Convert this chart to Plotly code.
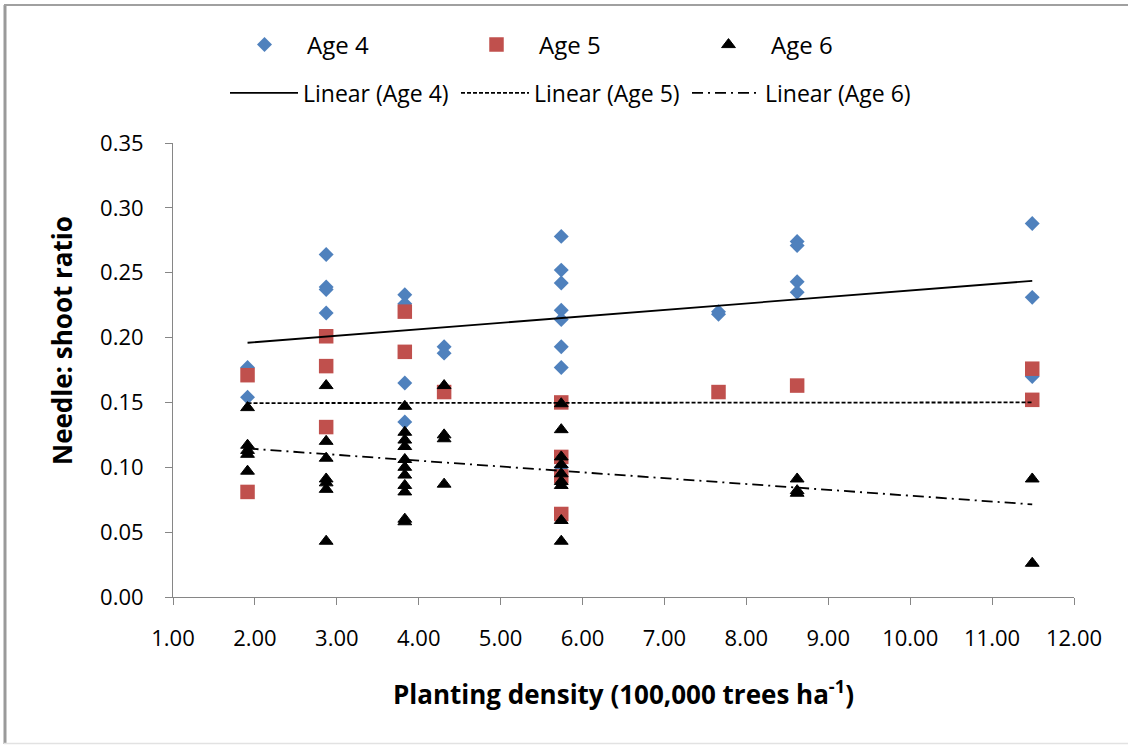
import plotly.graph_objects as go

# ---- data ----
age4_x = [1.91, 1.91,
          2.87, 2.87, 2.87, 2.87,
          3.83, 3.83, 3.83, 3.83,
          4.31, 4.31,
          5.74, 5.74, 5.74, 5.74, 5.74, 5.74, 5.74, 5.74,
          7.66, 7.66,
          8.62, 8.62, 8.62, 8.62,
          11.49, 11.49, 11.49]
age4_y = [0.177, 0.154,
          0.264, 0.239, 0.237, 0.219,
          0.233, 0.226, 0.165, 0.135,
          0.193, 0.188,
          0.278, 0.252, 0.242, 0.221, 0.214, 0.193, 0.177, 0.100,
          0.220, 0.218,
          0.274, 0.271, 0.243, 0.235,
          0.288, 0.231, 0.170]

age5_x = [1.91, 1.91,
          2.87, 2.87, 2.87,
          3.83, 3.83,
          4.31,
          5.74, 5.74, 5.74, 5.74,
          7.66,
          8.62,
          11.49, 11.49]
age5_y = [0.171, 0.081,
          0.201, 0.178, 0.131,
          0.220, 0.189,
          0.158,
          0.150, 0.108, 0.093, 0.064,
          0.158,
          0.163,
          0.176, 0.152]

age6_x = [1.91, 1.91, 1.91, 1.91, 1.91,
          2.87, 2.87, 2.87, 2.87, 2.87, 2.87, 2.87,
          3.83, 3.83, 3.83, 3.83, 3.83, 3.83, 3.83, 3.83, 3.83, 3.83, 3.83,
          4.31, 4.31, 4.31, 4.31,
          5.74, 5.74, 5.74, 5.74, 5.74, 5.74, 5.74, 5.74, 5.74,
          8.62, 8.62, 8.62,
          11.49, 11.49]
age6_y = [0.146, 0.117, 0.113, 0.110, 0.097,
          0.163, 0.120, 0.107, 0.091, 0.088, 0.083, 0.043,
          0.147, 0.127, 0.121, 0.116, 0.106, 0.100, 0.094, 0.086, 0.081, 0.060, 0.058,
          0.163, 0.125, 0.122, 0.087,
          0.149, 0.129, 0.108, 0.102, 0.095, 0.089, 0.086, 0.059, 0.043,
          0.091, 0.082, 0.080,
          0.091, 0.026]

trend_x = [1.91, 11.49]
trend4_y = [0.196, 0.2437]
trend5_y = [0.1495, 0.150]
trend6_y = [0.1145, 0.0714]

x_ticks = [1, 2, 3, 4, 5, 6, 7, 8, 9, 10, 11, 12]
y_ticks = [0.00, 0.05, 0.10, 0.15, 0.20, 0.25, 0.30, 0.35]

FONT = "Open Sans, Noto Sans, sans-serif"
AXIS_GREY = "#868686"

fig = go.Figure()

fig.add_trace(go.Scatter(x=age4_x, y=age4_y, mode="markers", name="Age 4",
                         marker=dict(symbol="diamond", size=11.5, color="#4F81BD"),
                         legend="legend"))
fig.add_trace(go.Scatter(x=age5_x, y=age5_y, mode="markers", name="Age 5",
                         marker=dict(symbol="square", size=14.5, color="#C0504D"),
                         legend="legend"))
fig.add_trace(go.Scatter(x=age6_x, y=age6_y, mode="markers", name="Age 6",
                         marker=dict(symbol="triangle-up", size=12, color="black",
                                     line=dict(color="black", width=1)),
                         legend="legend"))

fig.add_trace(go.Scatter(x=trend_x, y=trend4_y, mode="lines", name="Linear (Age 4)",
                         line=dict(color="black", width=1.8, dash="solid"),
                         legend="legend2"))
fig.add_trace(go.Scatter(x=trend_x, y=trend5_y, mode="lines", name="Linear (Age 5)",
                         line=dict(color="black", width=1.8, dash="4px,2px"),
                         legend="legend2"))
fig.add_trace(go.Scatter(x=trend_x, y=trend6_y, mode="lines", name="Linear (Age 6)",
                         line=dict(color="black", width=1.8, dash="11px,5px,2px,5px"),
                         legend="legend2"))

L, R, T, B = 173, 1074, 143, 597
W, H = 1128, 745


def px(xp):
    return (xp - L) / (R - L)


def py(yp):
    return (B - yp) / (B - T)


fig.update_layout(
    width=W, height=H,
    margin=dict(l=L, r=W - R, t=T, b=H - B),
    paper_bgcolor="white", plot_bgcolor="white",
    font=dict(family=FONT, size=22, color="black"),
    xaxis=dict(range=[1, 12], tickvals=x_ticks, tickformat=".2f",
               showline=True, linecolor=AXIS_GREY, linewidth=1,
               ticks="outside", ticklen=7, tickcolor=AXIS_GREY,
               showgrid=False, zeroline=False, ticklabelstandoff=15,
               tickfont=dict(size=22, family=FONT, color="black")),
    yaxis=dict(range=[0, 0.35], tickvals=y_ticks, tickformat=".2f",
               showline=True, linecolor=AXIS_GREY, linewidth=1,
               ticks="outside", ticklen=7, tickcolor=AXIS_GREY,
               showgrid=False, zeroline=False, ticklabelstandoff=17,
               tickfont=dict(size=22, family=FONT, color="black")),
    legend=dict(orientation="h", x=px(222), xanchor="left", y=py(45), yanchor="middle",
                itemwidth=75, entrywidth=142, entrywidthmode="pixels",
                font=dict(size=24, family=FONT), bgcolor="rgba(0,0,0,0)",
                tracegroupgap=0),
    legend2=dict(orientation="h", x=px(225), xanchor="left", y=py(93), yanchor="middle",
                 itemwidth=68, entrywidth=148, entrywidthmode="pixels",
                 font=dict(size=23, family=FONT), bgcolor="rgba(0,0,0,0)",
                 tracegroupgap=0),
    annotations=[
        dict(text="<b>Planting density (100,000 trees ha<sup>-1</sup>)</b>",
             xref="paper", yref="paper", x=px(623), y=py(693),
             xanchor="center", yanchor="middle", showarrow=False,
             font=dict(size=26, family=FONT, color="black")),
        dict(text="<b>Needle: shoot ratio</b>",
             xref="paper", yref="paper", x=px(62), y=py(341),
             xanchor="center", yanchor="middle", showarrow=False, textangle=-90,
             font=dict(size=26, family=FONT, color="black")),
    ],
    shapes=[
        dict(type="line", xref="paper", yref="paper",
             x0=px(5), x1=px(5), y0=py(744), y1=py(5),
             line=dict(color="#9a9a9a", width=3)),
        dict(type="line", xref="paper", yref="paper",
             x0=px(4), x1=px(1130), y0=py(5), y1=py(5),
             line=dict(color="#a0a0a0", width=2)),
        dict(type="line", xref="paper", yref="paper",
             x0=px(4), x1=px(1130), y0=py(743.5), y1=py(743.5),
             line=dict(color="#e2e2e2", width=1.5)),
    ],
)

fig.write_html("out.html",
               config={"displayModeBar": False},
               post_script="document.body.style.margin='0';document.body.style.overflow='hidden';")
